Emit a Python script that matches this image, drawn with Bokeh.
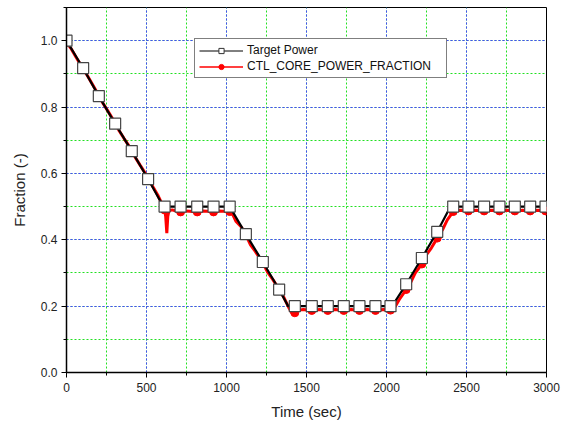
from bokeh.plotting import figure
from bokeh.embed import file_html
from bokeh.resources import INLINE
from bokeh.models import SingleIntervalTicker, Range1d, Legend, LegendItem, NumeralTickFormatter

# ---------------- data ----------------
# Target power line vertices
target_line_t = [0, 104, 202, 304, 408, 510, 605, 1020, 1121, 1227, 1329, 1385, 2035, 2123, 2221, 2317, 2400, 3000]
target_line_v = [1.0, 0.917, 0.833, 0.75, 0.667, 0.583, 0.5, 0.5, 0.417, 0.333, 0.25, 0.2, 0.2, 0.266, 0.345, 0.424, 0.5, 0.5]

# Target power markers
target_mark_t = [0, 104, 202, 304, 408, 510, 613, 713, 817, 919, 1020, 1121, 1227, 1329,
                 1427, 1533, 1633, 1733, 1831, 1931, 2025, 2123, 2221, 2317,
                 2417, 2512, 2610, 2706, 2802, 2898, 2994]
target_mark_v = [1.0, 0.917, 0.833, 0.75, 0.667, 0.583, 0.5, 0.5, 0.5, 0.5, 0.5, 0.417, 0.333, 0.25,
                 0.2, 0.2, 0.2, 0.2, 0.2, 0.2, 0.2, 0.266, 0.345, 0.424,
                 0.5, 0.5, 0.5, 0.5, 0.5, 0.5, 0.5]

# CTL_CORE_POWER_FRACTION curve
ctl_t = [0, 30, 60, 104, 130, 160, 202, 230, 260, 304, 330, 360, 408, 430, 460, 510, 540, 570, 600,
         613, 620, 627, 633, 640, 660, 690, 713, 740, 770, 817, 850, 880, 919, 950, 980, 1020,
         1040, 1060, 1090, 1121, 1150, 1180, 1227, 1260, 1290, 1329, 1360, 1390, 1410, 1427, 1450,
         1480, 1533, 1580, 1633, 1680, 1733, 1780, 1831, 1880, 1931, 1980, 2025, 2050, 2080, 2123,
         2150, 2180, 2221, 2250, 2280, 2317, 2350, 2380, 2417, 2440, 2470, 2512, 2560, 2610, 2660,
         2706, 2750, 2802, 2850, 2898, 2950, 2994, 3000]
ctl_v = [0.995, 0.975, 0.95, 0.915, 0.895, 0.87, 0.835, 0.81, 0.787, 0.752, 0.728, 0.705, 0.67, 0.648, 0.625,
         0.587, 0.56, 0.535, 0.505, 0.49, 0.47, 0.42, 0.47, 0.487, 0.49, 0.486, 0.484, 0.487, 0.486, 0.484,
         0.487, 0.486, 0.484, 0.487, 0.486, 0.485, 0.475, 0.455, 0.44, 0.415, 0.385, 0.365, 0.33, 0.3, 0.28,
         0.25, 0.225, 0.195, 0.178, 0.18, 0.188, 0.19, 0.187, 0.19, 0.187, 0.19, 0.187, 0.19, 0.187, 0.19,
         0.187, 0.19, 0.188, 0.195, 0.22, 0.25, 0.27, 0.3, 0.327, 0.355, 0.375, 0.405, 0.43, 0.46, 0.485,
         0.488, 0.489, 0.487, 0.489, 0.487, 0.489, 0.487, 0.489, 0.487, 0.489, 0.487, 0.489, 0.487, 0.488]

# CTL markers (at the same times as the target markers)
ctl_mark_t = target_mark_t
ctl_mark_v = [0.995, 0.915, 0.835, 0.752, 0.67, 0.587, 0.49, 0.484, 0.484, 0.484, 0.485, 0.415, 0.33, 0.25,
              0.18, 0.187, 0.187, 0.187, 0.187, 0.187, 0.188, 0.25, 0.327, 0.405,
              0.485, 0.487, 0.487, 0.487, 0.487, 0.487, 0.487]

x_ticks_interval = 500
y_ticks_interval = 0.2

FONT = "Liberation Sans"
NAN = float("nan")

p = figure(width=573, height=429, output_backend="svg", toolbar_location=None,
           x_range=Range1d(0, 3000), y_range=Range1d(0, 1.1),
           min_border_left=66, min_border_right=27, min_border_top=7, min_border_bottom=57)

p.outline_line_color = "black"
p.outline_line_width = 1
p.background_fill_color = "white"
p.border_fill_color = "white"

p.xaxis.ticker = SingleIntervalTicker(interval=x_ticks_interval, num_minor_ticks=2)
p.yaxis.ticker = SingleIntervalTicker(interval=y_ticks_interval, num_minor_ticks=2)
p.yaxis.formatter = NumeralTickFormatter(format="0.0")
p.xaxis.formatter = NumeralTickFormatter(format="0")

for ax in (p.xaxis, p.yaxis):
    ax.axis_line_color = "black"
    ax.axis_line_width = 1.5
    ax.major_tick_in = 0
    ax.major_tick_out = 5
    ax.minor_tick_in = 0
    ax.minor_tick_out = 3
    ax.major_tick_line_color = "black"
    ax.minor_tick_line_color = "black"
    ax.major_label_text_font = FONT
    ax.major_label_text_font_size = "12px"
    ax.major_label_text_color = "#222222"
    ax.axis_label_text_font = FONT
    ax.axis_label_text_font_size = "15px"
    ax.axis_label_text_font_style = "normal"
    ax.axis_label_text_color = "#222222"

p.xaxis.axis_label = "Time (sec)"
p.yaxis.axis_label = "Fraction (-)"
p.xaxis.major_label_standoff = 5
p.yaxis.major_label_standoff = 4
p.xaxis.axis_label_standoff = 8
p.yaxis.axis_label_standoff = 10

for g in (p.xgrid, p.ygrid):
    g.grid_line_color = "#4444ff"
    g.grid_line_dash = "2 2"
    g.grid_line_width = 1
    g.minor_grid_line_color = "#22e022"
    g.minor_grid_line_dash = "2 2"
    g.minor_grid_line_width = 1

# red curve
r_line = p.line(ctl_t, ctl_v, line_color="#ff0000", line_width=3)
r_mark = p.scatter(ctl_mark_t, ctl_mark_v, marker="circle", size=8,
                   fill_color="#ff0000", line_color="#ff0000")
# black target
k_line = p.line(target_line_t, target_line_v, line_color="black", line_width=2.2)
k_mark = p.scatter(target_mark_t, target_mark_v, marker="square", size=11,
                   fill_color="white", line_color="#444444", line_width=1.2)

# legend-only proxies (a single NaN point: nothing is drawn in the plot)
k_leg_line = p.line([NAN], [NAN], line_color="black", line_width=1)
k_leg_mark = p.scatter([NAN], [NAN], marker="square", size=9, fill_color="white", line_color="#333333", line_width=1)
r_leg_line = p.line([NAN], [NAN], line_color="#ff0000", line_width=1.5)
r_leg_mark = p.scatter([NAN], [NAN], marker="circle", size=9, fill_color="#ff0000", line_color="#ff0000")

legend = Legend(items=[
    LegendItem(label="Target Power", renderers=[k_leg_line, k_leg_mark]),
    LegendItem(label="CTL_CORE_POWER_FRACTION", renderers=[r_leg_line, r_leg_mark]),
], location=(128, 294))
legend.border_line_color = "black"
legend.border_line_width = 1
legend.background_fill_color = "white"
legend.background_fill_alpha = 1
legend.label_text_font = FONT
legend.label_text_font_size = "12px"
legend.label_text_color = "#111111"
legend.glyph_width = 44
legend.glyph_height = 13
legend.label_height = 13
legend.spacing = 2
legend.padding = 4
legend.margin = 0
legend.label_standoff = 4
legend.label_width = 195
p.add_layout(legend)

open("out.html", "w").write(file_html(p, INLINE))
